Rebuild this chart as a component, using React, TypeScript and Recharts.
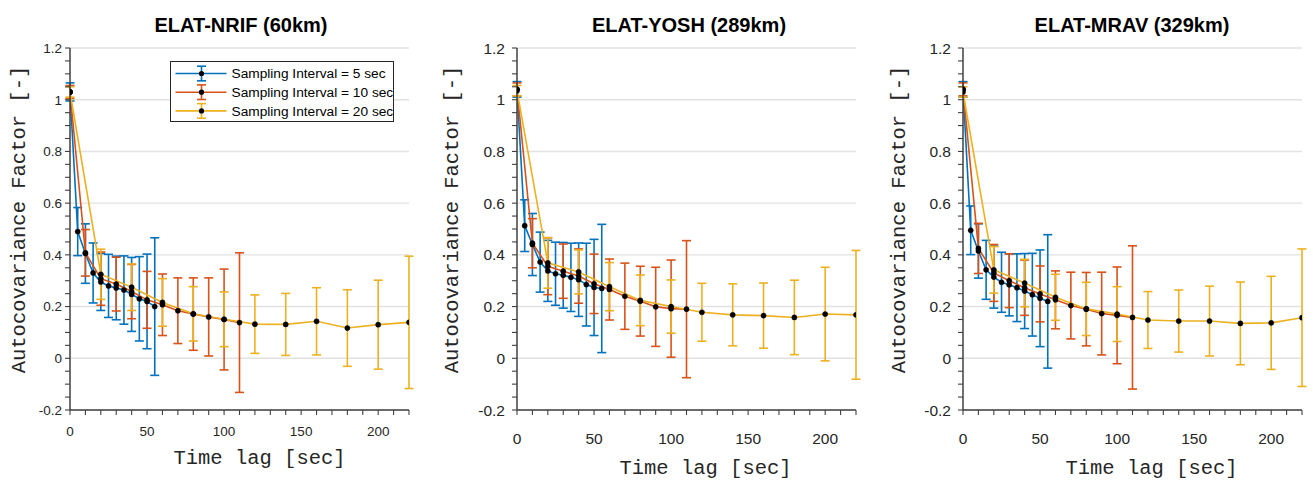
import React from 'react';
import { LineChart, Line, XAxis, YAxis, CartesianGrid, ErrorBar, Legend } from 'recharts';

// time lags [sec] for each sampling interval
const lag5 = [0, 5, 10, 15, 20, 25, 30, 35, 40, 45, 50, 55];
const lag10 = [0, 10, 20, 30, 40, 50, 60, 70, 80, 90, 100, 110];
const lag20 = [0, 20, 40, 60, 80, 100, 120, 140, 160, 180, 200, 220];

// ELAT-NRIF (60km)
const nrif5 = [1.03, 0.49, 0.405, 0.33, 0.295, 0.28, 0.272, 0.264, 0.247, 0.23, 0.22, 0.2];
const nrif5Err = [0.035, 0.093, 0.115, 0.116, 0.11, 0.122, 0.123, 0.132, 0.143, 0.163, 0.183, 0.266];
const nrif10 = [1.03, 0.408, 0.308, 0.287, 0.258, 0.226, 0.207, 0.184, 0.171, 0.16, 0.15, 0.138];
const nrif10Err = [0.025, 0.09, 0.103, 0.104, 0.105, 0.11, 0.119, 0.127, 0.14, 0.151, 0.195, 0.27];
const nrif20 = [1.03, 0.325, 0.275, 0.216, 0.172, 0.151, 0.132, 0.131, 0.143, 0.117, 0.13, 0.139];
const nrif20Err = [0.02, 0.097, 0.09, 0.092, 0.105, 0.106, 0.113, 0.12, 0.13, 0.148, 0.172, 0.256];

// ELAT-YOSH (289km)
const yosh5 = [1.04, 0.513, 0.44, 0.372, 0.338, 0.327, 0.321, 0.313, 0.304, 0.285, 0.274, 0.27];
const yosh5Err = [0.03, 0.1, 0.12, 0.116, 0.118, 0.122, 0.127, 0.132, 0.142, 0.16, 0.186, 0.248];
const yosh10 = [1.04, 0.445, 0.356, 0.337, 0.318, 0.288, 0.266, 0.24, 0.221, 0.199, 0.192, 0.19];
const yosh10Err = [0.025, 0.095, 0.11, 0.105, 0.105, 0.115, 0.118, 0.128, 0.135, 0.153, 0.188, 0.265];
const yosh20 = [1.035, 0.369, 0.334, 0.277, 0.224, 0.2, 0.178, 0.168, 0.165, 0.158, 0.171, 0.168];
const yosh20Err = [0.02, 0.098, 0.085, 0.093, 0.098, 0.103, 0.112, 0.12, 0.126, 0.144, 0.181, 0.249];

// ELAT-MRAV (329km)
const mrav5 = [1.04, 0.495, 0.415, 0.342, 0.314, 0.294, 0.284, 0.273, 0.26, 0.246, 0.232, 0.22];
const mrav5Err = [0.03, 0.094, 0.105, 0.114, 0.12, 0.116, 0.12, 0.131, 0.145, 0.16, 0.187, 0.258];
const mrav10 = [1.04, 0.425, 0.33, 0.3, 0.273, 0.249, 0.226, 0.204, 0.19, 0.173, 0.166, 0.158];
const mrav10Err = [0.025, 0.097, 0.11, 0.104, 0.107, 0.108, 0.112, 0.129, 0.142, 0.16, 0.187, 0.277];
const mrav20 = [1.03, 0.342, 0.291, 0.236, 0.191, 0.171, 0.148, 0.144, 0.144, 0.135, 0.137, 0.157];
const mrav20Err = [0.02, 0.09, 0.092, 0.089, 0.103, 0.106, 0.11, 0.12, 0.135, 0.16, 0.18, 0.266];

const seriesNames = ['Sampling Interval = 5 sec', 'Sampling Interval = 10 sec', 'Sampling Interval = 20 sec'];
const seriesColors = ['#0072BD', '#D95319', '#EDB120'];

const xTicks = [0, 10, 20, 30, 40, 50, 60, 70, 80, 90, 100, 110, 120, 130, 140, 150, 160, 170, 180, 190, 200, 210, 220];
const xLabeled = [0, 50, 100, 150, 200];
const yTicks = [-0.2, -0.15, -0.1, -0.05, 0, 0.05, 0.1, 0.15, 0.2, 0.25, 0.3, 0.35, 0.4, 0.45, 0.5, 0.55, 0.6, 0.65, 0.7, 0.75, 0.8, 0.85, 0.9, 0.95, 1, 1.05, 1.1, 1.15, 1.2];
const yLabeled = [-0.2, 0, 0.2, 0.4, 0.6, 0.8, 1, 1.2];

const SANS = "'Liberation Sans', Arial, Helvetica, sans-serif";
const MONO = "'Liberation Mono', 'Courier New', monospace";
const AXIS = '#404040';
const TEXT = '#262626';

const toRows = (lags: number[], vals: number[], errs: number[]) =>
    lags.map((x, i) => ({ x, y: vals[i], err: errs[i] }));

const panels = [
    {
        title: 'ELAT-NRIF (60km)',
        series: [toRows(lag5, nrif5, nrif5Err), toRows(lag10, nrif10, nrif10Err), toRows(lag20, nrif20, nrif20Err)],
        legend: true,
        plotLeft: 70, tickFont: 13.5, yGap: 8, xTickBase: 436, xLabelBase: 464, xLabelShift: 20, yLabelX: 25, titleCx: 241
    },
    {
        title: 'ELAT-YOSH (289km)',
        series: [toRows(lag5, yosh5, yosh5Err), toRows(lag10, yosh10, yosh10Err), toRows(lag20, yosh20, yosh20Err)],
        legend: false,
        plotLeft: 517, tickFont: 15.5, yGap: 12, xTickBase: 443.5, xLabelBase: 473.5, xLabelShift: 19, yLabelX: 458, titleCx: 689
    },
    {
        title: 'ELAT-MRAV (329km)',
        series: [toRows(lag5, mrav5, mrav5Err), toRows(lag10, mrav10, mrav10Err), toRows(lag20, mrav20, mrav20Err)],
        legend: false,
        plotLeft: 963, tickFont: 15.5, yGap: 12, xTickBase: 443.5, xLabelBase: 473.5, xLabelShift: 19, yLabelX: 905, titleCx: 1132
    }
];

const PLOT_W = 339;
const CHART_W = 440;
const CHART_H = 480;
const AXIS_W = 60;
const MARGIN = { top: 48, right: CHART_W - 80 - PLOT_W, bottom: 0, left: 20 };

const isIn = (list: number[], v: number) => list.some((m) => Math.abs(m - v) < 1e-6);

const LegendBox = () => (
    <div style={{ width: 224, height: 61, boxSizing: 'border-box', border: '1.5px solid #262626', background: '#fff', overflow: 'hidden' }}>
        <svg width={224} height={61} style={{ display: 'block' }}>
            {seriesNames.map((name, i) => {
                const cy = 11.5 + i * 18.7;
                const c = seriesColors[i];
                return (
                    <g key={name}>
                        <line x1={4.5} x2={55.5} y1={cy} y2={cy} stroke={c} strokeWidth={1.6} />
                        <line x1={30.5} x2={30.5} y1={cy - 7.3} y2={cy + 7.3} stroke={c} strokeWidth={1.6} />
                        <line x1={26} x2={35} y1={cy - 7.3} y2={cy - 7.3} stroke={c} strokeWidth={1.6} />
                        <line x1={26} x2={35} y1={cy + 7.3} y2={cy + 7.3} stroke={c} strokeWidth={1.6} />
                        <circle cx={30.5} cy={cy} r={2.6} fill="#000" />
                        <text x={60.5} y={cy + 4.7} fontFamily={SANS} fontSize={13.7} fill="#000">{name}</text>
                    </g>
                );
            })}
        </svg>
    </div>
);

function Panel({ cfg }: { cfg: typeof panels[number] }) {
    const chartLeft = cfg.plotLeft - MARGIN.left - AXIS_W;

    const XTick = ({ x, payload }: any) => {
        if (!isIn(xLabeled, payload.value)) return <g />;
        return (
            <text x={x} y={cfg.xTickBase} textAnchor="middle" fontFamily={SANS} fontSize={cfg.tickFont} fill={TEXT}>
                {payload.value}
            </text>
        );
    };

    const YTick = ({ x, y, payload }: any) => {
        if (!isIn(yLabeled, payload.value)) return <g />;
        const v = Math.round(payload.value * 10) / 10;
        return (
            <text x={x + 7 - cfg.yGap} y={y + cfg.tickFont * 0.36} textAnchor="end" fontFamily={SANS} fontSize={cfg.tickFont} fill={TEXT}>
                {String(v)}
            </text>
        );
    };

    return (
        <div style={{ position: 'absolute', left: chartLeft, top: 0 }}>
            <LineChart width={CHART_W} height={CHART_H} margin={MARGIN}>
                <CartesianGrid vertical={false} horizontalValues={yLabeled} stroke="#e2e2e2" strokeWidth={1.4} />
                <XAxis
                    type="number"
                    dataKey="x"
                    domain={[0, 220]}
                    ticks={xTicks}
                    interval={0}
                    height={CHART_H - MARGIN.top - 362}
                    tickSize={5}
                    tickMargin={2}
                    axisLine={{ stroke: AXIS, strokeWidth: 1.5 }}
                    tickLine={{ stroke: AXIS, strokeWidth: 1.1 }}
                    tick={XTick}
                    allowDataOverflow
                />
                <YAxis
                    type="number"
                    domain={[-0.2, 1.2]}
                    ticks={yTicks}
                    interval={0}
                    width={AXIS_W}
                    tickSize={5}
                    tickMargin={2}
                    axisLine={{ stroke: AXIS, strokeWidth: 1.5 }}
                    tickLine={{ stroke: AXIS, strokeWidth: 1.1 }}
                    tick={YTick}
                    allowDataOverflow
                />
                {cfg.series.map((rows, i) => (
                    <Line
                        key={seriesNames[i]}
                        data={rows}
                        dataKey="y"
                        name={seriesNames[i]}
                        type="linear"
                        stroke={seriesColors[i]}
                        strokeWidth={1.6}
                        dot={{ r: 2.6, fill: '#000', stroke: '#000', strokeWidth: 0.4 }}
                        activeDot={false}
                        isAnimationActive={false}
                    >
                        <ErrorBar dataKey="err" direction="y" width={4.5} stroke={seriesColors[i]} strokeWidth={1.6} isAnimationActive={false} />
                    </Line>
                ))}
                {cfg.legend && (
                    <Legend
                        layout="vertical"
                        align="center"
                        verticalAlign="middle"
                        content={<LegendBox />}
                        wrapperStyle={{ left: 170 - chartLeft, top: 61, width: 224, height: 61 }}
                    />
                )}
            </LineChart>
        </div>
    );
}

export default function App() {
    return (
        <div style={{ position: 'absolute', left: 0, top: 0, width: 1313, height: 480, overflow: 'hidden', background: '#fff' }}>
            {panels.map((p) => (
                <Panel key={p.title} cfg={p} />
            ))}
            <svg width={1313} height={480} style={{ position: 'absolute', left: 0, top: 0, pointerEvents: 'none' }}>
                {panels.map((p) => (
                    <g key={p.title}>
                        <text x={p.titleCx} y={31.5} textAnchor="middle" fontFamily={SANS} fontWeight="bold" fontSize={20} fill="#000">
                            {p.title}
                        </text>
                        <text x={p.plotLeft + PLOT_W / 2 + p.xLabelShift} y={p.xLabelBase} textAnchor="middle" fontFamily={MONO} fontSize={20.5} fill={TEXT}>
                            Time lag [sec]
                        </text>
                        <text
                            x={p.yLabelX}
                            y={219.5}
                            textAnchor="middle"
                            fontFamily={MONO}
                            fontSize={20.5}
                            fill={TEXT}
                            transform={`rotate(-90 ${p.yLabelX} 219.5)`}
                        >
                            Autocovariance Factor [-]
                        </text>
                    </g>
                ))}
            </svg>
        </div>
    );
}
